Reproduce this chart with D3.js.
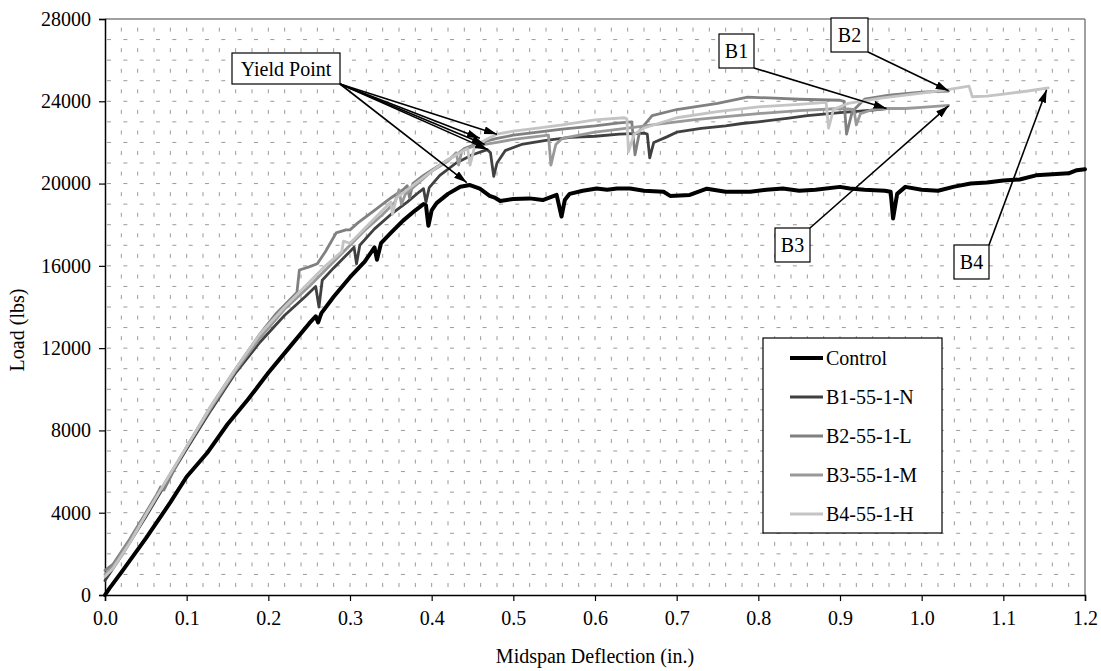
<!DOCTYPE html>
<html>
<head>
<meta charset="utf-8">
<script src="https://cdn.jsdelivr.net/npm/d3@7"></script>
<style>
  body { margin: 0; background: #fff; }
  text { font-family: "Liberation Serif", "Times New Roman", serif; fill: #000; }
</style>
</head>
<body>
<div id="chartDIV"></div>
<script>
// chart values
var xTicks = [0, 0.1, 0.2, 0.3, 0.4, 0.5, 0.6, 0.7, 0.8, 0.9, 1.0, 1.1, 1.2]
var yTicks = [0, 4000, 8000, 12000, 16000, 20000, 24000, 28000]

var seriesNames = ["Control", "B1-55-1-N", "B2-55-1-L", "B3-55-1-M", "B4-55-1-H"]
var seriesColors = ["#000000", "#404040", "#808080", "#999999", "#c4c4c4"]
var seriesWidths = [4, 2.8, 2.8, 2.8, 2.8]

var control = [[0,0],[0.005,300],[0.02,1100],[0.05,2750],[0.08,4500],[0.1,5750],[0.125,6900],[0.15,8300],
  [0.175,9500],[0.2,10800],[0.225,12000],[0.25,13200],[0.258,13550],[0.261,13250],[0.265,13700],[0.28,14500],
  [0.3,15450],[0.318,16200],[0.33,16900],[0.333,16300],[0.338,17100],[0.35,17600],[0.365,18200],[0.38,18700],
  [0.39,19000],[0.393,18950],[0.396,17950],[0.40,18700],[0.406,19050],[0.42,19500],[0.435,19850],[0.447,19930],
  [0.459,19750],[0.471,19400],[0.478,19300],[0.484,19150],[0.5,19250],[0.52,19280],[0.536,19200],[0.553,19450],
  [0.559,18400],[0.563,19200],[0.569,19500],[0.585,19650],[0.602,19760],[0.615,19700],[0.627,19760],[0.643,19760],
  [0.66,19650],[0.684,19600],[0.692,19400],[0.716,19450],[0.737,19750],[0.76,19600],[0.79,19600],[0.81,19700],
  [0.83,19760],[0.85,19650],[0.87,19700],[0.9,19840],[0.912,19760],[0.93,19700],[0.955,19650],[0.962,19600],
  [0.965,18300],[0.97,19500],[0.98,19840],[1.0,19700],[1.02,19650],[1.04,19850],[1.06,20000],[1.08,20050],
  [1.1,20150],[1.12,20200],[1.14,20400],[1.16,20450],[1.18,20500],[1.19,20650],[1.2,20700]]

var b1 = [[0,700],[0.02,1900],[0.05,3800],[0.08,5800],[0.1,7100],[0.13,9000],[0.16,10800],[0.19,12300],
  [0.22,13600],[0.245,14500],[0.258,15000],[0.262,14000],[0.266,15300],[0.28,15900],[0.3,16700],[0.305,16900],
  [0.308,16100],[0.312,17000],[0.33,17800],[0.35,18500],[0.37,19100],[0.385,19600],[0.39,19750],[0.393,19100],
  [0.397,19800],[0.41,20400],[0.43,21000],[0.45,21400],[0.468,21650],[0.472,21500],[0.476,20350],[0.48,21000],
  [0.49,21600],[0.51,21900],[0.54,22100],[0.57,22250],[0.6,22300],[0.63,22400],[0.66,22450],[0.664,22400],
  [0.667,21250],[0.672,22000],[0.688,22270],[0.7,22500],[0.73,22680],[0.76,22800],[0.78,22920],[0.8,23000],
  [0.835,23170],[0.86,23300],[0.9,23450],[0.94,23570],[0.957,23650]]

var b2 = [[0,1200],[0.01,1500],[0.03,2700],[0.05,4000],[0.065,5000],[0.068,5250],[0.072,5100],[0.09,6500],
  [0.1,7200],[0.13,9200],[0.16,11000],[0.19,12700],[0.21,13700],[0.235,14700],[0.238,15800],[0.25,15950],
  [0.26,16100],[0.27,16700],[0.283,17600],[0.295,17750],[0.3,17750],[0.31,18100],[0.33,18700],[0.35,19300],
  [0.365,19700],[0.37,19900],[0.373,19300],[0.377,20000],[0.39,20400],[0.41,20900],[0.43,21400],[0.44,21700],
  [0.46,22000],[0.48,22200],[0.5,22350],[0.53,22500],[0.56,22650],[0.6,22800],[0.63,22950],[0.645,23000],
  [0.649,21400],[0.655,22600],[0.67,23300],[0.7,23600],[0.75,23900],[0.787,24200],[0.82,24150],[0.85,24100],
  [0.9,24050],[0.905,24000],[0.908,22400],[0.915,23500],[0.93,24100],[0.96,24300],[1.0,24450],[1.033,24500]]

var b3 = [[0,1000],[0.01,1400],[0.03,2600],[0.05,3900],[0.08,5900],[0.1,7200],[0.13,9100],[0.16,10900],
  [0.19,12500],[0.22,13900],[0.25,15000],[0.28,16200],[0.3,17000],[0.32,17800],[0.34,18500],[0.355,19100],
  [0.36,19700],[0.363,19000],[0.368,19500],[0.38,19900],[0.4,20600],[0.42,21100],[0.43,21500],[0.433,20900],
  [0.437,21600],[0.45,21800],[0.465,21900],[0.48,22000],[0.5,22150],[0.52,22250],[0.543,22350],[0.546,20900],
  [0.552,21900],[0.56,22200],[0.6,22500],[0.64,22700],[0.68,22900],[0.72,23100],[0.76,23250],[0.8,23400],
  [0.85,23550],[0.9,23650],[0.917,23600],[0.92,22850],[0.925,23400],[0.94,23600],[0.957,23650],[0.98,23650],
  [1.0,23700],[1.033,23800]]

var b4 = [[0,900],[0.01,1300],[0.03,2500],[0.05,3900],[0.08,5900],[0.1,7200],[0.13,9200],[0.16,11000],
  [0.19,12700],[0.22,14000],[0.25,15200],[0.27,16000],[0.29,16700],[0.292,17200],[0.3,17100],[0.32,17900],
  [0.34,18700],[0.35,19100],[0.352,18500],[0.357,19300],[0.37,19700],[0.39,20300],[0.41,20900],[0.43,21400],
  [0.444,21700],[0.447,20900],[0.452,21700],[0.465,22100],[0.48,22400],[0.5,22550],[0.53,22700],[0.56,22850],
  [0.6,23100],[0.636,23200],[0.639,23150],[0.641,21550],[0.648,22400],[0.66,22700],[0.7,23200],[0.75,23500],
  [0.8,23730],[0.85,23850],[0.883,23950],[0.886,22700],[0.892,23600],[0.91,23900],[0.95,24150],[1.0,24400],
  [1.03,24550],[1.045,24650],[1.058,24740],[1.062,24220],[1.08,24250],[1.1,24350],[1.13,24500],[1.155,24650]]

var allSeries = [control, b1, b2, b3, b4]

// where the "Yield Point" arrows land
var yieldTargets = [[0.443,20050],[0.459,22200],[0.465,21900],[0.469,21650],[0.48,22400]]
// callout labels and the end points they point to
var calloutNames = ["B1", "B2", "B3", "B4"]
var calloutTargets = [[0.957,23650],[1.033,24510],[1.033,23780],[1.153,24560]]

//************layout************//
var svgWidth = 1101
var svgHeight = 671
var plotLeft = 105, plotRight = 1085, plotTop = 19, plotBottom = 595
var fontSize = 20
var gridColor = "#9a9a9a"

var x = d3.scaleLinear().domain([0, 1.2]).range([plotLeft, plotRight])
var y = d3.scaleLinear().domain([0, 28000]).range([plotBottom, plotTop])

var svg = d3.select("#chartDIV").append("svg")
  .attr("width", svgWidth)
  .attr("height", svgHeight)
  .attr("id", "mainSVG")

var defs = svg.append("defs")
defs.append("marker")
  .attr("id", "arrowHead")
  .attr("markerUnits", "userSpaceOnUse")
  .attr("markerWidth", 14)
  .attr("markerHeight", 10)
  .attr("refX", 13)
  .attr("refY", 4)
  .attr("orient", "auto")
  .append("path")
  .attr("d", "M0,0 L13,4 L0,8 Z")
  .style("fill", "#000")

// dashed grid
var hGrid = d3.range(1000, 28000, 1000)
var vGrid = d3.range(0.02, 1.2, 0.02)

svg.append("g").selectAll("line").data(hGrid).join("line")
  .attr("x1", plotLeft).attr("x2", plotRight)
  .attr("y1", d => y(d)).attr("y2", d => y(d))
  .style("stroke", gridColor)
  .style("stroke-width", 1)
  .style("stroke-dasharray", "4,12.33")
  .style("stroke-dashoffset", -2)

svg.append("g").selectAll("line").data(vGrid).join("line")
  .attr("x1", d => x(d)).attr("x2", d => x(d))
  .attr("y1", plotBottom).attr("y2", plotTop)
  .style("stroke", gridColor)
  .style("stroke-width", 1)
  .style("stroke-dasharray", "4,16.57")
  .style("stroke-dashoffset", -8)

// frame: gray top/right, black axes
svg.append("line")
  .attr("x1", plotLeft).attr("x2", plotRight).attr("y1", plotTop).attr("y2", plotTop)
  .style("stroke", "#808080").style("stroke-width", 1.5)
svg.append("line")
  .attr("x1", plotRight).attr("x2", plotRight).attr("y1", plotTop).attr("y2", plotBottom)
  .style("stroke", "#808080").style("stroke-width", 1.5)

var xAxis = svg.append("g")
  .attr("transform", `translate(0,${plotBottom})`)
  .call(d3.axisBottom(x).tickValues(xTicks).tickFormat(d3.format(".1f")).tickSize(6).tickPadding(10))
var yAxis = svg.append("g")
  .attr("transform", `translate(${plotLeft},0)`)
  .call(d3.axisLeft(y).tickValues(yTicks).tickFormat(d => d).tickSize(6).tickPadding(8))

;[xAxis, yAxis].forEach(function(ax){
  ax.select(".domain").style("stroke", "#000").style("stroke-width", 1.5)
  ax.selectAll(".tick line").style("stroke", "#000").style("stroke-width", 1.2)
  ax.selectAll(".tick text")
    .style("font-family", '"Liberation Serif", "Times New Roman", serif')
    .style("font-size", `${fontSize}px`)
    .style("fill", "#000")
})

// axis titles
svg.append("text")
  .attr("x", (plotLeft + plotRight) / 2)
  .attr("y", 663)
  .attr("text-anchor", "middle")
  .style("font-size", `${fontSize}px`)
  .text("Midspan Deflection (in.)")

svg.append("text")
  .attr("transform", `translate(24,330) rotate(-90)`)
  .attr("text-anchor", "middle")
  .style("font-size", `${fontSize}px`)
  .text("Load (lbs)")

//************series************//
var line = d3.line().x(d => x(d[0])).y(d => y(d[1]))

svg.append("g").selectAll("path").data(allSeries).join("path")
  .attr("d", line)
  .style("fill", "none")
  .style("stroke", (d, i) => seriesColors[i])
  .style("stroke-width", (d, i) => seriesWidths[i])
  .style("stroke-linejoin", "round")
  .style("stroke-linecap", "round")

//************annotations************//
function drawBox(left, top, w, h, txt){
  svg.append("rect")
    .attr("x", left).attr("y", top)
    .attr("width", w).attr("height", h)
    .style("fill", "#fff")
    .style("stroke", "#000")
    .style("stroke-width", 1.2)
  svg.append("text")
    .attr("x", left + w / 2)
    .attr("y", top + h / 2 + 7)
    .attr("text-anchor", "middle")
    .style("font-size", `${fontSize}px`)
    .text(txt)
}

function drawArrow(x1, y1, pt){
  svg.append("line")
    .attr("x1", x1).attr("y1", y1)
    .attr("x2", x(pt[0])).attr("y2", y(pt[1]))
    .style("stroke", "#000")
    .style("stroke-width", 1.6)
    .attr("marker-end", "url(#arrowHead)")
}

// yield point label and its arrows
drawBox(232, 53, 108, 31, "Yield Point")
yieldTargets.forEach(pt => drawArrow(340, 84, pt))

// B1..B4 labels: box corner where the arrow starts
var calloutBoxes = [[719, 34, 35, 34], [831, 18, 37, 34], [775, 228, 35, 34], [954, 245, 35, 34]]
var calloutStarts = [[754, 68], [868, 52], [810, 228], [989, 245]]
calloutNames.forEach(function(name, i){
  var b = calloutBoxes[i]
  drawArrow(calloutStarts[i][0], calloutStarts[i][1], calloutTargets[i])
  drawBox(b[0], b[1], b[2], b[3], name)
})

//************legend************//
var legendLeft = 763, legendTop = 338, legendW = 179, legendH = 195
var legendRowY = 358, legendStep = 39

var legend = svg.append("g")
legend.append("rect")
  .attr("x", legendLeft).attr("y", legendTop)
  .attr("width", legendW).attr("height", legendH)
  .style("fill", "#fff")
  .style("stroke", "#000")
  .style("stroke-width", 1.2)

var rows = legend.selectAll("g.row").data(seriesNames).join("g")
  .attr("class", "row")
  .attr("transform", (d, i) => `translate(0,${legendRowY + i * legendStep})`)
rows.append("line")
  .attr("x1", 790).attr("x2", 823)
  .attr("y1", 0).attr("y2", 0)
  .style("stroke", (d, i) => seriesColors[i])
  .style("stroke-width", (d, i) => seriesWidths[i])
rows.append("text")
  .attr("x", 826)
  .attr("y", 7)
  .style("font-size", `${fontSize}px`)
  .text(d => d)
</script>
</body>
</html>
